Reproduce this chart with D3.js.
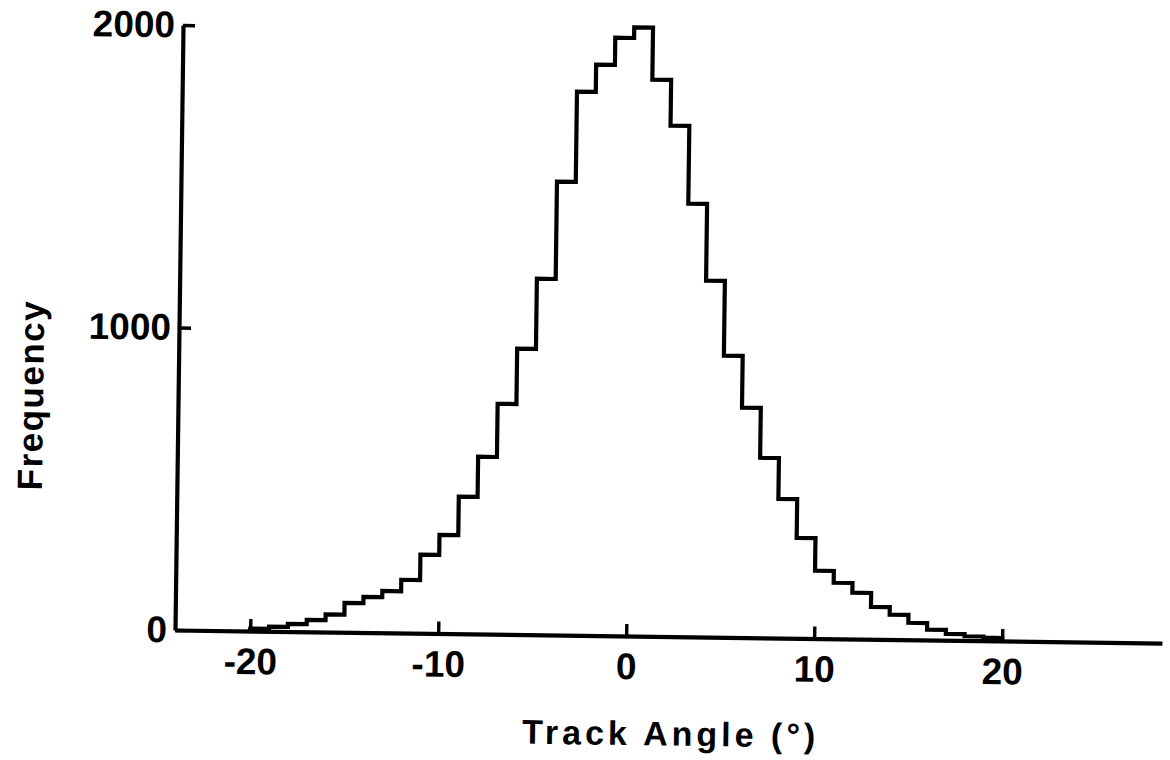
<!DOCTYPE html>
<html>
<head>
<meta charset="utf-8">
<script src="https://cdn.jsdelivr.net/npm/d3@7"></script>
<style>
  html, body { margin: 0; padding: 0; background: #fff; }
  svg { display: block; }
  text { font-family: "Liberation Sans", Arial, sans-serif; font-weight: bold; fill: #000; }
</style>
</head>
<body>
<svg id="chart" width="1170" height="760"></svg>
<script>
// Bin left edges (degrees), each bin 1 degree wide
const binStarts = [-20,-19,-18,-17,-16,-15,-14,-13,-12,-11,-10,-9,-8,-7,-6,-5,-4,-3,-2,-1,
                   0,1,2,3,4,5,6,7,8,9,10,11,12,13,14,15,16,17,18,19];
// Frequencies
const frequencies = [8,15,25,39,58,97,118,138,176,260,326,453,586,762,945,1177,1499,1797,1887,1977,
                     2012,1840,1689,1432,1178,931,760,595,460,332,224,185,153,107,82,56,34,21,14,10];
const xTicks = [-20,-10,0,10,20];
const yTicks = [0,1000,2000];
const xLabel = "Track Angle (°)";
const yLabel = "Frequency";

const svg = d3.select("#chart");
const ox = 175, oy = 630;
// the scanned figure is slightly rotated clockwise
const g = svg.append("g").attr("transform", `rotate(0.76, ${ox}, ${oy})`);

const x = d3.scaleLinear().domain([-24, 28.5]).range([ox, 1162]);
const y = d3.scaleLinear().domain([0, 2000]).range([oy, 25]);

// histogram step outline
const pts = [[binStarts[0], 0]];
binStarts.forEach((b, i) => {
  pts.push([b, frequencies[i]]);
  pts.push([b + 1, frequencies[i]]);
});
pts.push([binStarts[binStarts.length - 1] + 1, 0]);

const line = d3.line().x(d => x(d[0])).y(d => y(d[1]));
g.append("path")
  .attr("d", line(pts))
  .attr("fill", "none")
  .attr("stroke", "#000")
  .attr("stroke-width", 4.2)
  .attr("stroke-linejoin", "miter");

const fontFam = "'Liberation Sans', Arial, sans-serif";

// x axis
const xAxis = d3.axisBottom(x).tickValues(xTicks).tickSizeInner(-12).tickSizeOuter(0).tickPadding(17)
  .tickFormat(d => d < 0 ? "-" + Math.abs(d) : String(d));
const xg = g.append("g").attr("transform", `translate(0,${oy})`).call(xAxis);
xg.select(".domain").attr("stroke", "#000").attr("stroke-width", 4.2);
xg.selectAll(".tick line").attr("stroke", "#000").attr("stroke-width", 3.4);
xg.selectAll(".tick text").attr("font-family", null).attr("font-size", null)
  .style("font-size", "37px").style("font-family", fontFam).style("font-weight", "bold");

// y axis
const yAxis = d3.axisLeft(y).tickValues(yTicks).tickSizeInner(-12).tickSizeOuter(0).tickPadding(8)
  .tickFormat(d3.format("d"));
const yg = g.append("g").attr("transform", `translate(${ox},0)`).call(yAxis);
yg.select(".domain").attr("stroke", "#000").attr("stroke-width", 4.2);
yg.selectAll(".tick line").attr("stroke", "#000").attr("stroke-width", 3.4);
yg.selectAll(".tick text").attr("font-family", null).attr("font-size", null)
  .style("font-size", "37px").style("font-family", fontFam).style("font-weight", "bold");

// axis titles
g.append("text")
  .attr("x", 672).attr("y", 739)
  .attr("text-anchor", "middle")
  .style("font-size", "34px")
  .style("letter-spacing", "4px")
  .text(xLabel);

g.append("text")
  .attr("transform", "translate(40,397) rotate(-90)")
  .attr("text-anchor", "middle")
  .style("font-size", "35px")
  .style("letter-spacing", "1.5px")
  .text(yLabel);
</script>
</body>
</html>
